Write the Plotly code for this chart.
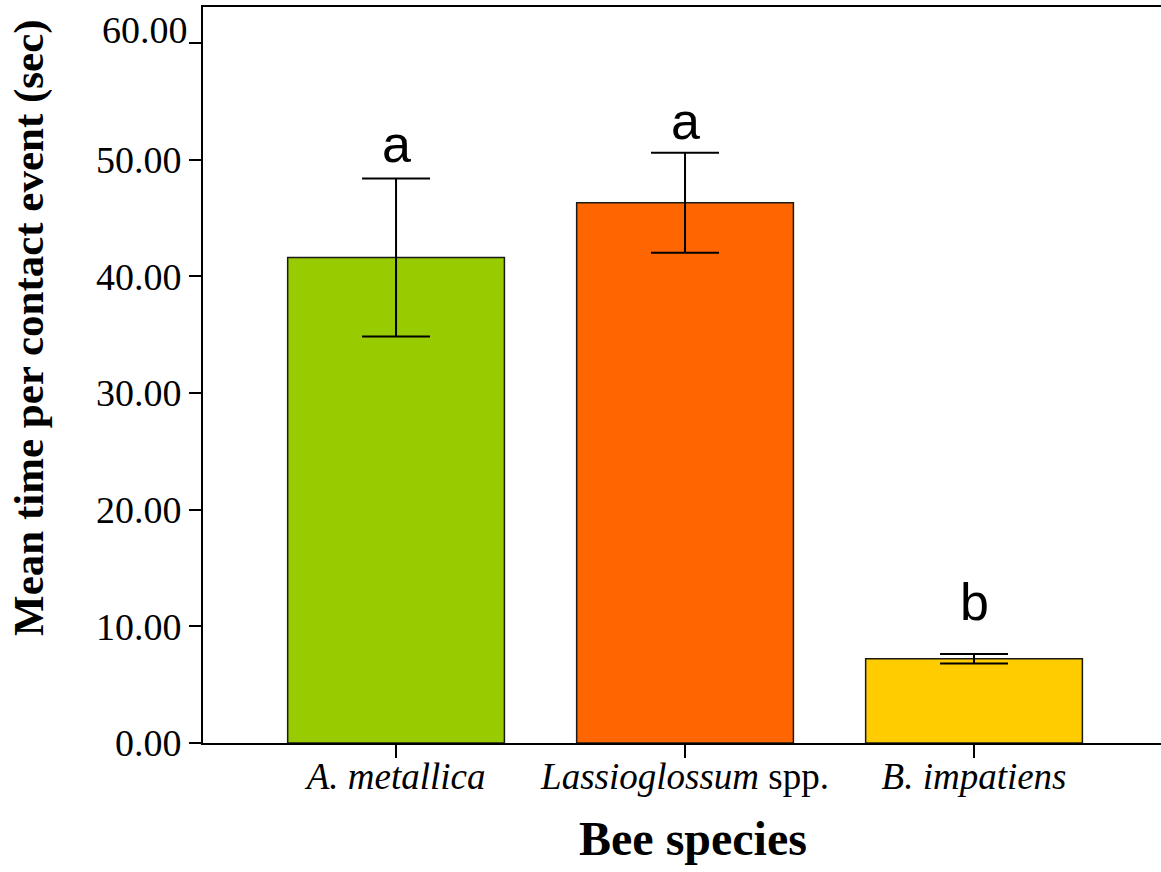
import plotly.graph_objects as go

# Mean contact duration per bee species, with standard error
species = ["A. metallica", "Lassioglossum spp.", "B. impatiens"]
species_labels = ["<i>A. metallica</i>", "<i>Lassioglossum</i> spp.", "<i>B. impatiens</i>"]
mean_time = [41.63, 46.32, 7.23]
std_error = [6.77, 4.29, 0.41]
bar_colors = ["#99CC00", "#FF6600", "#FFCC00"]

# Significance groups and the height at which each letter sits
group_letters = ["a", "a", "b"]
letter_y = [49.6, 51.6, 10.4]

y_ticks = [0, 10, 20, 30, 40, 50, 60]
y_tick_text = [f"{v:.2f}" for v in y_ticks]

serif = "Liberation Serif, Times New Roman, serif"

fig = go.Figure()
fig.add_trace(go.Bar(
    x=species,
    y=mean_time,
    width=0.75,
    marker=dict(color=bar_colors, line=dict(color="#1a1a1a", width=1.5)),
    error_y=dict(type="data", array=std_error, visible=True,
                 color="black", thickness=2, width=34),
    showlegend=False,
))

for sp, letter, ly in zip(species, group_letters, letter_y):
    fig.add_annotation(
        x=sp, y=ly, text=letter, showarrow=False,
        xref="x", yref="y", yanchor="bottom", yshift=-11,
        font=dict(family="Liberation Sans, Arial, sans-serif", size=52, color="black"),
    )

# The topmost tick label sits a little above its tick
fig.add_annotation(
    text=y_tick_text[-1], xref="paper", yref="y", x=0, y=y_ticks[-1],
    xanchor="right", yanchor="middle", xshift=-13, yshift=13, showarrow=False,
    font=dict(family=serif, size=38, color="black"),
)

fig.add_annotation(
    text="<b>Mean time per contact event (sec)</b>",
    xref="paper", yref="paper", x=-0.1816, y=0.564,
    textangle=-90, showarrow=False, xanchor="center", yanchor="middle",
    font=dict(family=serif, size=43, color="black"),
)
fig.add_annotation(
    text="<b>Bee species</b>",
    xref="paper", yref="paper", x=0.5115, y=-0.130,
    showarrow=False, xanchor="center", yanchor="middle",
    font=dict(family=serif, size=48, color="black"),
)

fig.update_layout(
    width=1161, height=872,
    margin=dict(l=203, r=0, t=7, b=129),
    plot_bgcolor="white", paper_bgcolor="white",
    font=dict(family=serif, size=36, color="black"),
    xaxis=dict(
        range=[-0.668, 2.647],
        tickmode="array", tickvals=species, ticktext=species_labels,
        ticks="outside", ticklen=13, tickwidth=2, tickcolor="black",
        showline=True, linecolor="black", linewidth=2, mirror=True,
        showgrid=False, zeroline=False,
        tickfont=dict(size=37), ticklabelstandoff=-13,
    ),
    yaxis=dict(
        range=[0, 63.1],
        tickmode="array", tickvals=y_ticks,
        ticktext=y_tick_text[:-1] + [""],
        ticks="outside", ticklen=12, tickwidth=2, tickcolor="black",
        showline=True, linecolor="black", linewidth=2,
        showgrid=False, zeroline=False,
        tickfont=dict(size=38),
    ),
)

fig.write_html("out.html")
